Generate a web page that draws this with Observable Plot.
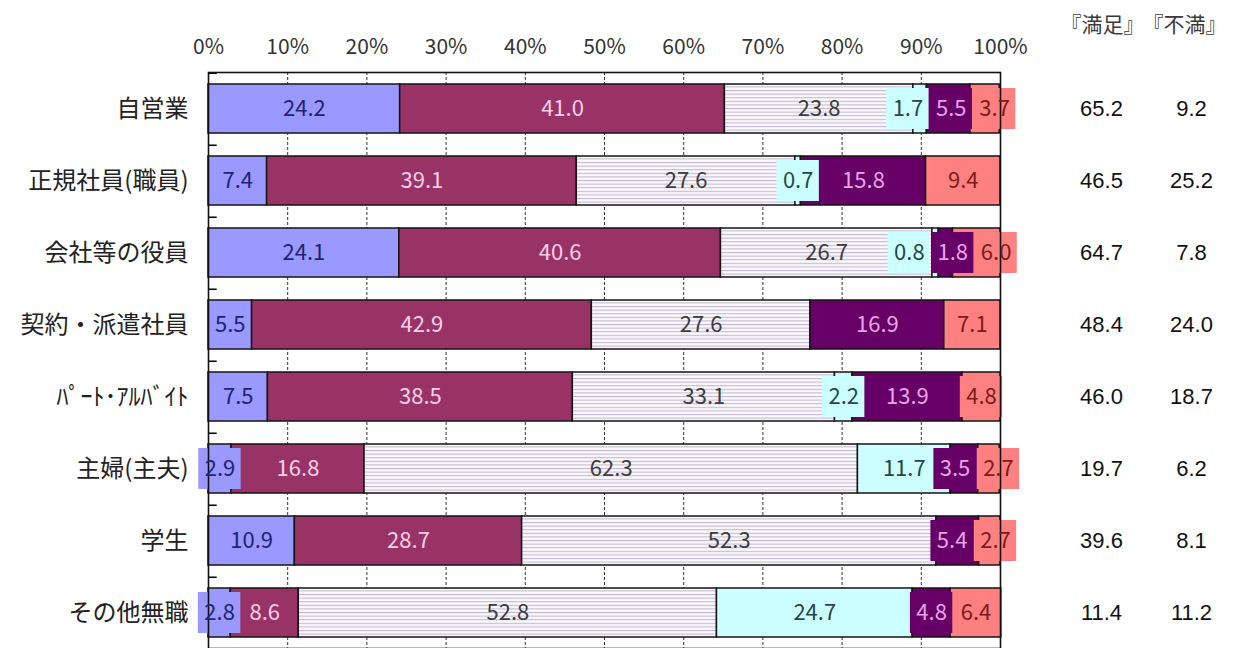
<!DOCTYPE html>
<html>
<head>
<meta charset="utf-8">
<script src="https://cdn.jsdelivr.net/npm/d3@7"></script>
<script src="https://cdn.jsdelivr.net/npm/@observablehq/plot@0.6"></script>
<style>
  html, body { margin: 0; padding: 0; background: #fff; }
  #chart { width: 1235px; height: 648px; overflow: hidden; }
</style>
</head>
<body>
<div id="chart"></div>
<script>
// ---- data ----
const categories = ["自営業", "正規社員(職員)", "会社等の役員", "契約・派遣社員", "ﾊﾟｰﾄ･ｱﾙﾊﾞｲﾄ", "主婦(主夫)", "学生", "その他無職"];
const seriesNames = ["満足", "まあ満足", "どちらともいえない", "わからない", "やや不満", "不満"];
const s1 = [24.2, 7.4, 24.1, 5.5, 7.5, 2.9, 10.9, 2.8];
const s2 = [41.0, 39.1, 40.6, 42.9, 38.5, 16.8, 28.7, 8.6];
const s3 = [23.8, 27.6, 26.7, 27.6, 33.1, 62.3, 52.3, 52.8];
const s4 = [1.7, 0.7, 0.8, 0, 2.2, 11.7, 0, 24.7];
const s5 = [5.5, 15.8, 1.8, 16.9, 13.9, 3.5, 5.4, 4.8];
const s6 = [3.7, 9.4, 6.0, 7.1, 4.8, 2.7, 2.7, 6.4];
const satisfied = [65.2, 46.5, 64.7, 48.4, 46.0, 19.7, 39.6, 11.4];
const dissatisfied = [9.2, 25.2, 7.8, 24.0, 18.7, 6.2, 8.1, 11.2];
const xTicks = [0, 10, 20, 30, 40, 50, 60, 70, 80, 90, 100];
const tickLabels = ["0%", "10%", "20%", "30%", "40%", "50%", "60%", "70%", "80%", "90%", "100%"];
const headers = ["『満足』", "『不満』"];

// ---- styles ----
const seriesValues = [s1, s2, s3, s4, s5, s6];
const seriesFills = ["#9999ff", "#993366", "url(#stripes)", "#ccffff", "#660066", "#ff8080"];
const labelColors = ["#23236e", "#ffd0ea", "#3c3c3c", "#284646", "#e9a2ea", "#7a1c1c"];
const FONT = "'Noto Sans CJK JP', 'Noto Sans', sans-serif";
const LFS = 22, LLS = 2.5;               // label font size / letter spacing
const pxPerPct = (1000 - 208) / 100;

// ---- derived table with label collision avoidance (like Excel) ----
const textW = s => {
  let w = 0;
  for (const ch of s) w += (ch === "." ? 0.27 : 0.555) * LFS;
  return w + (s.length - 1) * LLS;
};
const segs = [];
categories.forEach((c, i) => {
  let acc = 0;
  const row = [];
  seriesValues.forEach((vals, j) => {
    const v = vals[i];
    if (v > 0) {
      const label = v.toFixed(1);
      const w = textW(label) + 7;
      row.push({category: c, series: seriesNames[j], si: j, value: v, x1: acc, x2: acc + v,
                label, w, c: (acc + v / 2) * pxPerPct});
    }
    acc += v;
  });
  for (let it = 0; it < 60; it++) {
    for (let k = 0; k < row.length - 1; k++) {
      const a = row[k], b = row[k + 1];
      const ov = (a.w + b.w) / 2 + 1 - (b.c - a.c);
      if (ov > 0) { a.c -= ov / 2; b.c += ov / 2; }
    }
  }
  row.forEach(d => {
    d.tx = d.c / pxPerPct;
    d.bx1 = (d.c - d.w / 2) / pxPerPct;
    d.bx2 = (d.c + d.w / 2) / pxPerPct;
    segs.push(d);
  });
});
const boxes = segs.filter(d => d.si !== 2 && (d.bx1 < d.x1 || d.bx2 > d.x2));

const marks = [
  Plot.ruleX(xTicks.filter(t => t > 0 && t < 100), {stroke: "#333", strokeWidth: 1, strokeDasharray: "3,2"}),
  Plot.barX(categories, {y: d => d, x1: 0, x2: 1.1, fill: "#000", insetTop: -11.5, insetBottom: 49 + 11.5 - 1.5}),
  Plot.barX(segs, {y: "category", x1: "x1", x2: "x2", fill: "series", stroke: "#151515", strokeWidth: 1.5}),
  Plot.barX(boxes, {y: "category", x1: "bx1", x2: "bx2", fill: "series", insetTop: 4, insetBottom: 4}),
  Plot.frame({stroke: "#111", strokeWidth: 1.6}),
  Plot.axisX({anchor: "top", ticks: xTicks, tickFormat: d => tickLabels[xTicks.indexOf(d)], tickSize: 0, tickPadding: 19, fontSize: 21, fill: "#333", label: null}),
  Plot.axisY({anchor: "left", tickSize: 0, tickPadding: 20, fontSize: 24, fill: "#222", label: null}),
];
seriesNames.forEach((s, j) => {
  marks.push(Plot.text(segs.filter(d => d.si === j), {
    y: "category", x: "tx", text: "label", fill: labelColors[j], fontSize: LFS, fontFamily: FONT, letterSpacing: LLS
  }));
});
const numFont = "'Liberation Sans', Arial, sans-serif";
marks.push(
  Plot.text(categories, {y: d => d, text: (d, i) => satisfied[i].toFixed(1), frameAnchor: "right", textAnchor: "middle", dx: 101, fontSize: 22, fill: "#111", fontFamily: numFont}),
  Plot.text(categories, {y: d => d, text: (d, i) => dissatisfied[i].toFixed(1), frameAnchor: "right", textAnchor: "middle", dx: 191, fontSize: 22, fill: "#111", fontFamily: numFont}),
  Plot.text([headers[0]], {text: d => d, frameAnchor: "top-right", textAnchor: "middle", dx: 102, dy: -55, fontSize: 21, fill: "#3a3a3a", fontFamily: FONT}),
  Plot.text([headers[1]], {text: d => d, frameAnchor: "top-right", textAnchor: "middle", dx: 184, dy: -55, fontSize: 21, fill: "#3a3a3a", fontFamily: FONT})
);

const svg = Plot.plot({
  width: 1235,
  height: 648,
  marginLeft: 208,
  marginRight: 235,
  marginTop: 72,
  marginBottom: 0,
  style: {fontFamily: FONT, background: "#fff", overflow: "visible"},
  x: {domain: [0, 100], axis: null},
  y: {domain: categories, paddingInner: 0.32, paddingOuter: 0.16, axis: null},
  color: {domain: seriesNames, range: seriesFills},
  marks
});

const ns = "http://www.w3.org/2000/svg";
const defs = document.createElementNS(ns, "defs");
defs.innerHTML = '<pattern id="stripes" patternUnits="userSpaceOnUse" width="8" height="3.6">' +
  '<rect width="8" height="3.6" fill="#fbf8fd"/>' +
  '<line x1="0" y1="0.6" x2="8" y2="0.6" stroke="#b3a8c4" stroke-width="0.9"/></pattern>';
svg.insertBefore(defs, svg.firstChild);
document.getElementById("chart").appendChild(svg);
</script>
</body>
</html>
